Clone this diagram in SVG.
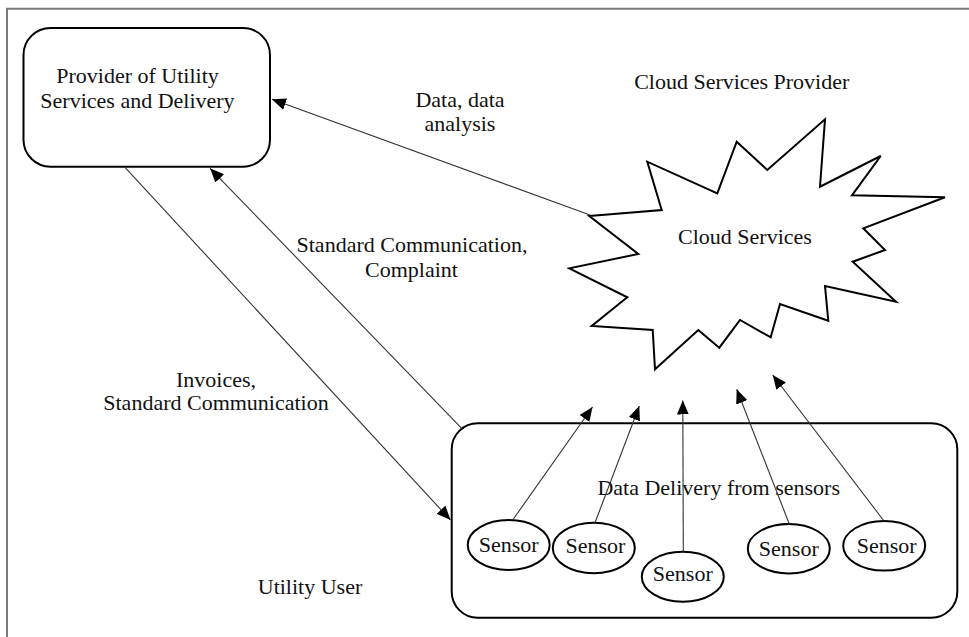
<svg xmlns="http://www.w3.org/2000/svg" width="969" height="637" viewBox="0 0 969 637">
<style>
text{font-family:"Liberation Serif","Times New Roman",serif;font-size:22px;fill:#111;text-anchor:middle}
.box{fill:#fff;stroke:#000;stroke-width:2}
.conn{stroke:#333;stroke-width:1.1;fill:none;marker-end:url(#ah)}
</style>
<defs>
<marker id="ah" viewBox="0 0 14 12" refX="14" refY="6" markerWidth="14" markerHeight="12" markerUnits="userSpaceOnUse" orient="auto">
<path d="M0,0 L14,6 L0,12 z" fill="#000"/>
</marker>
</defs>
<rect width="969" height="637" fill="#fff"/>
<path d="M7,637 V8.8 H969" fill="none" stroke="#7a7a7a" stroke-width="2"/>

<g id="provider">
<rect class="box" x="23.5" y="28" width="246.5" height="138.7" rx="27" ry="27"/>
<text x="137.5" y="83">Provider of Utility</text>
<text x="137.5" y="108">Services and Delivery</text>
</g>

<g id="cloud">
<text x="741.7" y="89">Cloud Services Provider</text>
<polygon class="box" points="589.3,216 661.7,210 647.3,161.7 717.3,193.3 736.7,141.7 767.3,170 825,119.3 820,186.7 880.7,156 852,195.3 945,197.3 863.3,228.3 885,250 852.7,261.7 896,301.7 825,286 828.3,320.7 780,304 770.7,337.3 740,320 719.3,347.7 698.3,330 655,369.3 652.7,330 591.7,326 627.3,297.3 569.3,268.3 638.3,254"/>
<text x="745" y="244">Cloud Services</text>
</g>

<g id="user">
<rect class="box" x="451.7" y="423.3" width="505.6" height="194.4" rx="26" ry="26"/>
<text x="718.7" y="495">Data Delivery from sensors</text>
<text x="310" y="594">Utility User</text>
</g>

<g id="sensor1"><ellipse class="box" cx="508.7" cy="545" rx="41" ry="25"/><text x="508.7" y="551.5">Sensor</text></g>
<g id="sensor2"><ellipse class="box" cx="593.8" cy="548" rx="41" ry="25.3"/><text x="595.5" y="553">Sensor</text></g>
<g id="sensor3"><ellipse class="box" cx="682.8" cy="576.7" rx="41" ry="25"/><text x="682.8" y="580.5">Sensor</text></g>
<g id="sensor4"><ellipse class="box" cx="788.8" cy="548.7" rx="41" ry="24.7"/><text x="788.8" y="556">Sensor</text></g>
<g id="sensor5"><ellipse class="box" cx="884.2" cy="545.8" rx="41" ry="24.8"/><text x="886.6" y="553">Sensor</text></g>

<g id="connectors">
<line class="conn" x1="590" y1="215" x2="272" y2="99.3"/>
<line class="conn" x1="461.7" y1="428.3" x2="210" y2="168.3"/>
<line class="conn" x1="125" y1="167.3" x2="450.5" y2="520"/>
<line class="conn" x1="512.7" y1="520" x2="592.5" y2="407"/>
<line class="conn" x1="595" y1="522.7" x2="639.3" y2="406"/>
<line class="conn" x1="683.3" y1="551.7" x2="682.8" y2="400.5"/>
<line class="conn" x1="789.3" y1="524" x2="736.7" y2="389.3"/>
<line class="conn" x1="884" y1="521" x2="772.7" y2="375"/>
</g>

<g id="labels">
<text x="460" y="107">Data, data</text>
<text x="460" y="131">analysis</text>
<text x="412" y="252">Standard Communication,</text>
<text x="411.5" y="277">Complaint</text>
<text x="216" y="387">Invoices,</text>
<text x="216" y="410">Standard Communication</text>
</g>
</svg>
